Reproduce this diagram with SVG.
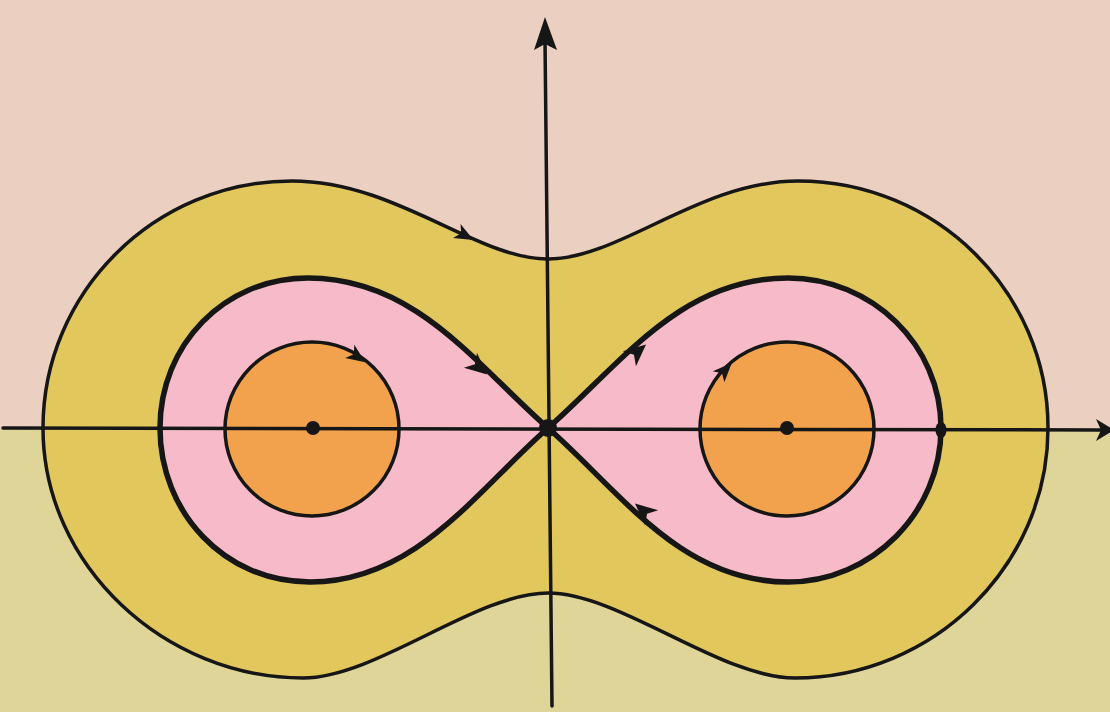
<svg xmlns="http://www.w3.org/2000/svg" width="1110" height="712" viewBox="0 0 1110 712">
<style>
.ln{stroke:#161616;stroke-linejoin:round;stroke-linecap:round}
.thin{stroke-width:3.5}
.thick{stroke-width:5.5}
.ax{stroke-width:3.5;fill:none}
.gold{fill:#E2C75D}
.pink{fill:#F6BAC8}
.orange{fill:#F2A24D}
.ah{fill:#161616}
</style>
<defs>
<path id="arr" d="M4,0 L-18,-10 L-12,0 L-18,10 Z"/>
<path id="arrs" d="M4,0 L-15,-8 L-10,0 L-15,8 Z"/>
</defs>
<g id="background">
<rect x="0" y="0" width="1110" height="429" fill="#EBCFC1"/>
<rect x="0" y="429" width="1110" height="283" fill="#DFD598"/>
</g>
<g id="outer-orbit">
<path class="ln thin gold" d="M43,428 C43,292 155,181 292,181 C396,181 476,259 548,259 C620,259 700,181 798,181 C936,181 1048,292 1048,428 C1048,566 933,678 795,678 C720,678 620,593 548,593 C476,593 376,678 303,678 C165,678 43,566 43,428 Z"/>
<use href="#arrs" class="ah" transform="translate(470,238) rotate(28)"/>
</g>
<g id="separatrix">
<path class="ln thick pink" d="M548,428 C620,365 680,278 788,278 C872,278 941,345 941,428 C941,512 872,582 788,582 C680,582 620,491 548,428 C476,365 416,278 308,278 C224,278 160,345 160,428 C160,512 224,582 310,582 C416,582 476,491 548,428 Z"/>
<use href="#arr" class="ah" transform="translate(484,372) rotate(41)"/>
<use href="#arr" class="ah" transform="translate(643,347) rotate(-41)"/>
<use href="#arr" class="ah" transform="translate(638,506) rotate(-139)"/>
</g>
<g id="left-cycle">
<circle class="ln thin orange" cx="312" cy="429" r="87"/>
<use href="#arrs" class="ah" transform="translate(362,360) rotate(35)"/>
</g>
<g id="right-cycle">
<circle class="ln thin orange" cx="787" cy="429" r="87"/>
<use href="#arrs" class="ah" transform="translate(729,366) rotate(-46)"/>
</g>
<g id="connectors">
<line class="ln ax" x1="3" y1="428" x2="1102" y2="430"/>
<line class="ln ax" x1="545" y1="40" x2="552" y2="706"/>
<path class="ah" d="M545,17 L534,50 L545,44 L557,50 Z"/>
<path class="ah" d="M1114,430 L1096,419 L1101,430 L1096,441 Z"/>
</g>
<g id="equilibria">
<circle class="ah" cx="313" cy="428" r="7"/>
<circle class="ah" cx="787" cy="428" r="7"/>
<circle class="ah" cx="548" cy="428" r="9"/>
<ellipse class="ah" cx="941" cy="430" rx="5.5" ry="8"/>
</g>
</svg>
